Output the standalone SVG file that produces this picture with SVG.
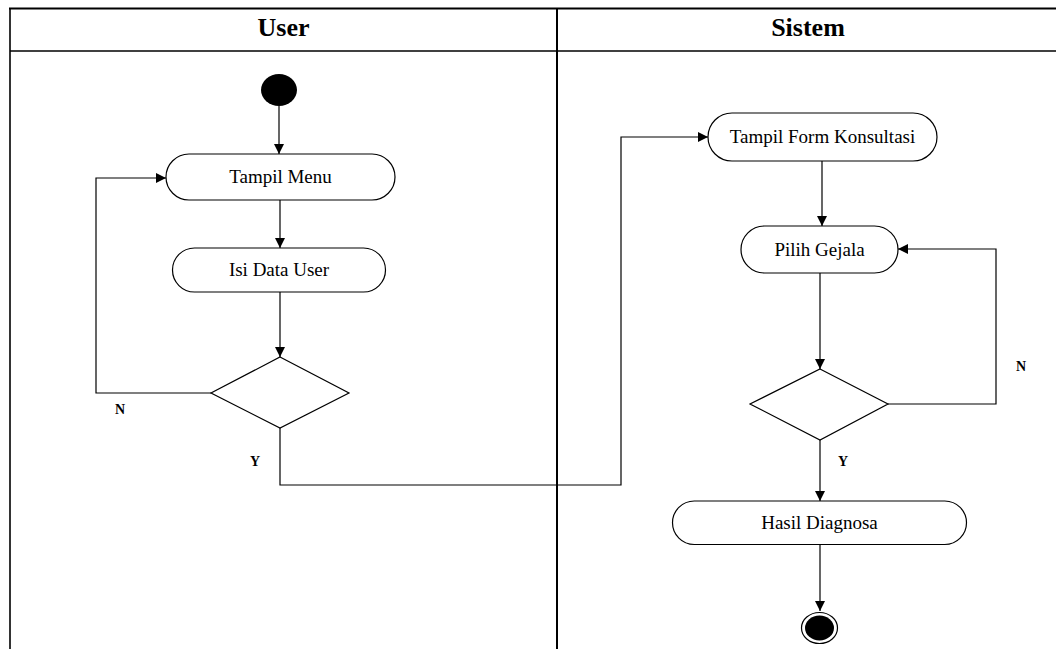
<svg xmlns="http://www.w3.org/2000/svg" width="1056" height="649" viewBox="0 0 1056 649">
  <style>
    .lane { stroke: #000; fill: none; }
    .node { fill: #fff; stroke: #000; stroke-width: 1.2; }
    .label { font-family: "Liberation Serif", "Times New Roman", serif; font-size: 19px; fill: #000; text-anchor: middle; }
    .head { font-family: "Liberation Serif", "Times New Roman", serif; font-size: 26px; font-weight: bold; fill: #000; text-anchor: middle; }
    .guard { font-family: "Liberation Serif", "Times New Roman", serif; font-size: 14px; font-weight: bold; fill: #000; text-anchor: middle; }
    .flow { fill: none; stroke: #000; stroke-width: 1.2; }
  </style>
  <defs>
    <marker id="arrow" markerUnits="userSpaceOnUse" markerWidth="11" markerHeight="11" refX="10" refY="5" orient="auto">
      <path d="M0,0 L10,5 L0,10 z" fill="#000"/>
    </marker>
  </defs>

  <rect width="1056" height="649" fill="#fff"/>

  <!-- swimlane frame -->
  <g id="swimlanes">
    <line class="lane" x1="9" y1="8.5" x2="1056" y2="8.5" stroke-width="2"/>
    <line class="lane" x1="10" y1="51" x2="1056" y2="51" stroke-width="1.6" stroke="#444"/>
    <line class="lane" x1="10" y1="8" x2="10" y2="649" stroke-width="1.6"/>
    <line class="lane" x1="557" y1="8" x2="557" y2="649" stroke-width="2"/>
    <text class="head" x="283.5" y="36">User</text>
    <text class="head" x="808" y="36">Sistem</text>
  </g>

  <!-- transitions -->
  <g id="connectors">
    <path class="flow" d="M279,106 L279,154" marker-end="url(#arrow)"/>
    <path class="flow" d="M280,200 L280,248" marker-end="url(#arrow)"/>
    <path class="flow" d="M280,292 L280,357" marker-end="url(#arrow)"/>
    <path class="flow" d="M211,393 L96,393 L96,178 L166,178" marker-end="url(#arrow)"/>
    <path class="flow" d="M280,428 L280,485 L621,485 L621,137 L708,137" marker-end="url(#arrow)"/>
    <path class="flow" d="M822,161 L822,226" marker-end="url(#arrow)"/>
    <path class="flow" d="M820,273 L820,369" marker-end="url(#arrow)"/>
    <path class="flow" d="M888,404 L996,404 L996,249 L898,249" marker-end="url(#arrow)"/>
    <path class="flow" d="M820,440 L820,501" marker-end="url(#arrow)"/>
    <path class="flow" d="M820,544 L820,611" marker-end="url(#arrow)"/>
    <text class="guard" x="120" y="414">N</text>
    <text class="guard" x="255" y="466">Y</text>
    <text class="guard" x="1021" y="371">N</text>
    <text class="guard" x="843" y="466">Y</text>
  </g>

  <g id="start">
    <ellipse cx="279" cy="90" rx="18" ry="16" fill="#000"/>
  </g>

  <g id="tampil-menu">
    <rect class="node" x="166" y="154" width="229" height="46" rx="23" ry="23"/>
    <text class="label" x="280.5" y="183">Tampil Menu</text>
  </g>

  <g id="isi-data-user">
    <rect class="node" x="172.5" y="248" width="213" height="44" rx="22" ry="22"/>
    <text class="label" x="279" y="276">Isi Data User</text>
  </g>

  <g id="decision-user">
    <polygon class="node" points="280,357 349,393 280,428 211,393"/>
  </g>

  <g id="tampil-form-konsultasi">
    <rect class="node" x="708" y="113" width="229" height="48" rx="24" ry="24"/>
    <text class="label" x="822.5" y="143">Tampil Form Konsultasi</text>
  </g>

  <g id="pilih-gejala">
    <rect class="node" x="741" y="226" width="157" height="47" rx="23.5" ry="23.5"/>
    <text class="label" x="819.5" y="255.5">Pilih Gejala</text>
  </g>

  <g id="decision-sistem">
    <polygon class="node" points="820,369 888,404 820,440 750,404"/>
  </g>

  <g id="hasil-diagnosa">
    <rect class="node" x="672.5" y="501" width="294" height="43.5" rx="21.75" ry="21.75"/>
    <text class="label" x="819.5" y="528.5">Hasil Diagnosa</text>
  </g>

  <g id="end">
    <ellipse cx="819.5" cy="628" rx="18" ry="15.5" fill="#fff" stroke="#000" stroke-width="1.2"/>
    <ellipse cx="819.5" cy="628" rx="14.5" ry="12.5" fill="#000"/>
  </g>
</svg>
